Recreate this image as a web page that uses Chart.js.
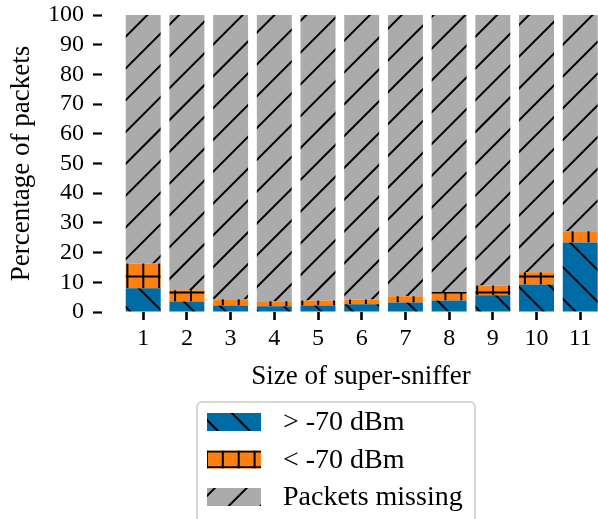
<!DOCTYPE html>
<html>
<head>
<meta charset="utf-8">
<script src="https://cdn.jsdelivr.net/npm/chart.js@4.4.1/dist/chart.umd.min.js"></script>
<style>
  html, body { margin: 0; background: #fff; overflow: hidden; }
  canvas { display: block; }
</style>
</head>
<body>
<!-- axes run a little past the right edge, as in the original figure -->
<canvas id="chart" width="620" height="519"></canvas>
<script>
// ---------- DATA ----------
const sizes = [1, 2, 3, 4, 5, 6, 7, 8, 9, 10, 11];
const strongPct = [8.0, 3.5, 2.2, 1.9, 2.2, 2.6, 3.2, 3.9, 5.6, 9.3, 23.4];
const weakPct = [8.3, 3.8, 2.1, 1.7, 1.7, 1.6, 2.1, 2.8, 3.3, 4.1, 3.8];
const missingPct = [83.7, 92.7, 95.7, 96.4, 96.1, 95.8, 94.7, 93.3, 91.1, 86.6, 72.8];
const yTicks = [0, 10, 20, 30, 40, 50, 60, 70, 80, 90, 100];

const FONT = "'Liberation Serif', 'Times New Roman', serif";

// ---------- HATCH PATTERNS ----------
const canvas = document.getElementById("chart");
const ctx = canvas.getContext("2d");
const P = 15.9, T = 159;   // hatch spacing, tile = 10 spacings

function makePattern(bg, drawLines) {
  const c = document.createElement("canvas");
  c.width = T; c.height = T;
  const g = c.getContext("2d");
  g.fillStyle = bg;
  g.fillRect(0, 0, T, T);
  g.strokeStyle = "#000";
  g.lineWidth = 2;
  g.beginPath();
  drawLines(g);
  g.stroke();
  return ctx.createPattern(c, "repeat");
}

// "/" lines: x + y = s
const slashGray = makePattern("#ababab", g => {
  for (let k = -12; k <= 16; k++) {
    const s = 3.3 + k * 2 * P;
    g.moveTo(s + T, -T);
    g.lineTo(s - 2 * T, 2 * T);
  }
});

// "\" lines: y - x = d
const backBlue = makePattern("#006ba4", g => {
  for (let k = -12; k <= 16; k++) {
    const d = 22.2 + k * 2 * P;
    g.moveTo(-T, d - T);
    g.lineTo(2 * T, d + 2 * T);
  }
});

// "+" grid
const gridOrange = makePattern("#ff800e", g => {
  for (let k = -1; k <= 11; k++) {
    g.moveTo(0.2 + k * P, 0); g.lineTo(0.2 + k * P, T);
    g.moveTo(0, 6.2 + k * P); g.lineTo(T, 6.2 + k * P);
  }
});

// ---------- LEGEND (framed, one row per dataset) ----------
const boxLegend = {
  id: "boxLegend",
  afterDraw(chart) {
    const c = chart.ctx;
    c.save();
    c.fillStyle = "#fff";
    c.strokeStyle = "#d6d6d6";
    c.lineWidth = 2;
    c.beginPath();
    c.roundRect(197, 402, 278, 130, 5);
    c.fill();
    c.stroke();
    c.font = "28px " + FONT;
    c.textBaseline = "middle";
    chart.data.datasets.forEach((ds, i) => {
      const top = 413 + i * 37.5;
      c.fillStyle = ds.backgroundColor;
      c.fillRect(207, top, 54, 18);
      c.fillStyle = "#000";
      c.fillText(ds.label, 283, top + 10);
    });
    c.restore();
  }
};

// ---------- CHART ----------
new Chart(ctx, {
  type: "bar",
  data: {
    datasets: [
      { label: "> -70 dBm", data: sizes.map((s, i) => ({ x: s, y: strongPct[i] })), backgroundColor: backBlue },
      { label: "< -70 dBm", data: sizes.map((s, i) => ({ x: s, y: weakPct[i] })), backgroundColor: gridOrange },
      { label: "Packets missing", data: sizes.map((s, i) => ({ x: s, y: missingPct[i] })), backgroundColor: slashGray }
    ]
  },
  options: {
    responsive: false,
    animation: false,
    layout: { padding: { top: 15, right: 0, bottom: 127, left: 0 } },
    datasets: { bar: { categoryPercentage: 1, barPercentage: 0.8, borderWidth: 0 } },
    plugins: { legend: { display: false }, tooltip: { enabled: false } },
    scales: {
      x: {
        type: "linear",
        stacked: true,
        offset: false,
        min: 0.057,
        max: 11.91,
        afterBuildTicks: scale => { scale.ticks = sizes.map(v => ({ value: v })); },
        afterFit: scale => { scale.height = 80; scale.paddingLeft = 0; scale.paddingRight = 0; },
        ticks: { color: "#000", font: { family: FONT, size: 24 }, padding: 4, autoSkip: false, maxRotation: 0 },
        grid: { drawOnChartArea: false, offset: false, tickLength: 8, tickWidth: 2.6, tickColor: "#000" },
        border: { display: false },
        title: { display: true, text: "Size of super-sniffer", color: "#000",
                 font: { family: FONT, size: 27, lineHeight: 1 }, padding: { top: 0, bottom: 2 } }
      },
      y: {
        stacked: true,
        min: 0,
        max: 100,
        afterBuildTicks: scale => { scale.ticks = yTicks.map(v => ({ value: v })); },
        afterFit: scale => { scale.width = 102; scale.paddingTop = 0; scale.paddingBottom = 0; },
        ticks: { color: "#000", font: { family: FONT, size: 24 }, padding: 9, autoSkip: false },
        grid: { drawOnChartArea: false, tickLength: 9, tickWidth: 2.2, tickColor: "#000" },
        border: { display: false },
        title: { display: true, text: "Percentage of packets", color: "#000",
                 font: { family: FONT, size: 27, lineHeight: 1 }, padding: { top: 8, bottom: 0 } }
      }
    }
  },
  plugins: [boxLegend]
});
</script>
</body>
</html>
